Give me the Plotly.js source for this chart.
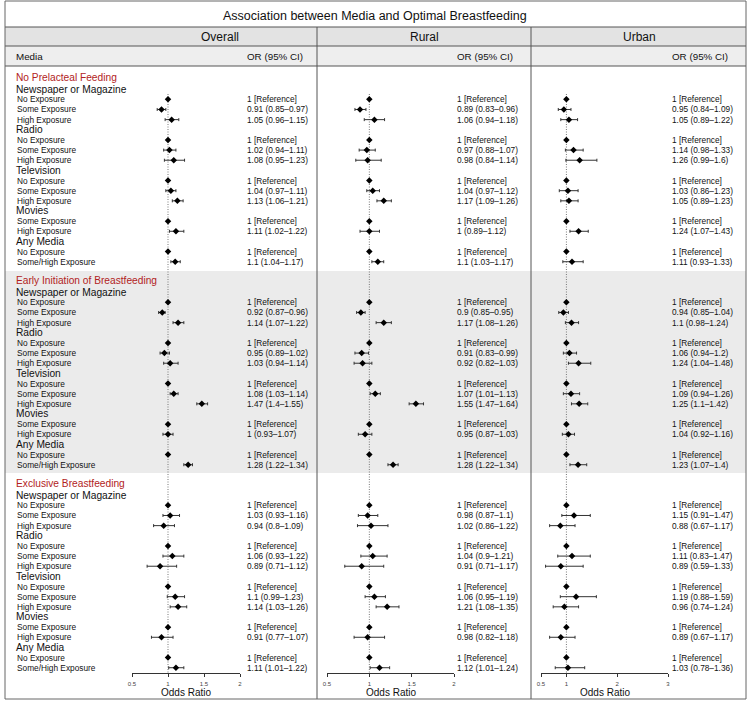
<!DOCTYPE html>
<html>
<head>
<meta charset="utf-8">
<script src="https://cdn.plot.ly/plotly-3.0.1.min.js"></script>
<style>
  html, body { margin: 0; padding: 0; background: #fff; }
  #chart { width: 751px; height: 703px; }
</style>
</head>
<body>
<div id="chart"></div>
<script>
// ---- data ----
const outcomes = ['No Prelacteal Feeding', 'Early Initiation of Breastfeeding', 'Exclusive Breastfeeding'];
const mediaGroups = ['Newspaper or Magazine', 'Radio', 'Television', 'Movies', 'Any Media'];
const groupLevels = [
    ['No Exposure', 'Some Exposure', 'High Exposure'],
    ['No Exposure', 'Some Exposure', 'High Exposure'],
    ['No Exposure', 'Some Exposure', 'High Exposure'],
    ['Some Exposure', 'High Exposure'],
    ['No Exposure', 'Some/High Exposure']
];
const panels = ['Overall', 'Rural', 'Urban'];

// non-reference rows, in row order, one list per outcome
const overallOR = [[0.91, 1.05, 1.02, 1.08, 1.04, 1.13, 1.11, 1.1],
                   [0.92, 1.14, 0.95, 1.03, 1.08, 1.47, 1, 1.28],
                   [1.03, 0.94, 1.06, 0.89, 1.1, 1.14, 0.91, 1.11]];
const overallLo = [[0.85, 0.96, 0.94, 0.95, 0.97, 1.06, 1.02, 1.04],
                   [0.87, 1.07, 0.89, 0.94, 1.03, 1.4, 0.93, 1.22],
                   [0.93, 0.8, 0.93, 0.71, 0.99, 1.03, 0.77, 1.01]];
const overallHi = [[0.97, 1.15, 1.11, 1.23, 1.11, 1.21, 1.22, 1.17],
                   [0.96, 1.22, 1.02, 1.14, 1.14, 1.55, 1.07, 1.34],
                   [1.16, 1.09, 1.22, 1.12, 1.23, 1.26, 1.07, 1.22]];

const ruralOR = [[0.89, 1.06, 0.97, 0.98, 1.04, 1.17, 1, 1.1],
                 [0.9, 1.17, 0.91, 0.92, 1.07, 1.55, 0.95, 1.28],
                 [0.98, 1.02, 1.04, 0.91, 1.06, 1.21, 0.98, 1.12]];
const ruralLo = [[0.83, 0.94, 0.88, 0.84, 0.97, 1.09, 0.89, 1.03],
                 [0.85, 1.08, 0.83, 0.82, 1.01, 1.47, 0.87, 1.22],
                 [0.87, 0.86, 0.9, 0.71, 0.95, 1.08, 0.82, 1.01]];
const ruralHi = [[0.96, 1.18, 1.07, 1.14, 1.12, 1.26, 1.12, 1.17],
                 [0.95, 1.26, 0.99, 1.03, 1.13, 1.64, 1.03, 1.34],
                 [1.1, 1.22, 1.21, 1.17, 1.19, 1.35, 1.18, 1.24]];

const urbanOR = [[0.95, 1.05, 1.14, 1.26, 1.03, 1.05, 1.24, 1.11],
                 [0.94, 1.1, 1.06, 1.24, 1.09, 1.25, 1.04, 1.23],
                 [1.15, 0.88, 1.11, 0.89, 1.19, 0.96, 0.89, 1.03]];
const urbanLo = [[0.84, 0.89, 0.98, 0.99, 0.86, 0.89, 1.07, 0.93],
                 [0.85, 0.98, 0.94, 1.04, 0.94, 1.1, 0.92, 1.07],
                 [0.91, 0.67, 0.83, 0.59, 0.88, 0.74, 0.67, 0.78]];
const urbanHi = [[1.09, 1.22, 1.33, 1.6, 1.23, 1.23, 1.43, 1.33],
                 [1.04, 1.24, 1.2, 1.48, 1.26, 1.42, 1.16, 1.4],
                 [1.47, 1.17, 1.47, 1.33, 1.59, 1.24, 1.17, 1.36]];

const axisTicks = [[0.5, 1, 1.5, 2], [0.5, 1, 1.5, 2], [0.5, 1, 2, 3]];

// ---- layout helpers ----
const W = 751, H = 703;
const ROW = 10.15, TOP = 77;
const px = x => x / W;
const py = y => 1 - y / H;
const FONT = 'Liberation Sans, Arial, Helvetica, sans-serif';

const panelData = [
    {or: overallOR, lo: overallLo, hi: overallHi, dom: [132, 240], range: [0.5, 2], textX: 245, head: 220},
    {or: ruralOR, lo: ruralLo, hi: ruralHi, dom: [327, 454], range: [0.5, 2], textX: 455, head: 424},
    {or: urbanOR, lo: urbanLo, hi: urbanHi, dom: [541, 668], range: [0.5, 3], textX: 670, head: 639}
];

// build rows (y in row units)
const rows = [];
outcomes.forEach((o, k) => {
    const base = k * 20;
    rows.push({kind: 'outcome', label: o, u: base});
    let u = base + 1.2;
    let est = 0;
    mediaGroups.forEach((g, gi) => {
        rows.push({kind: 'group', label: g, u: u});
        u += 1;
        groupLevels[gi].forEach((lev, li) => {
            rows.push({kind: 'level', label: lev, u: u, outcome: k, ref: li === 0, idx: li === 0 ? -1 : est});
            if (li > 0) est++;
            u += 1;
        });
    });
});

const annotations = [];
const shapes = [];
const traces = [];

function ann(text, x, y, opts) {
    annotations.push(Object.assign({
        text: text, x: x, y: y, xref: 'paper', yref: 'y',
        xanchor: 'left', yanchor: 'middle', showarrow: false,
        font: {family: FONT, size: 8.3, color: '#111'}
    }, opts || {}));
}

// row labels
rows.forEach(r => {
    if (r.kind === 'outcome') ann(r.label, px(14), r.u, {font: {family: FONT, size: 10.2, color: '#B22222'}});
    else if (r.kind === 'group') ann(r.label, px(14), r.u, {font: {family: FONT, size: 10.2, color: '#111'}});
    else ann(r.label, px(15), r.u);
});

const fmt = v => String(v);

panelData.forEach((p, pi) => {
    const xa = pi === 0 ? 'x' : 'x' + (pi + 1);
    const xs = [], ys = [], ep = [], em = [];
    rows.filter(r => r.kind === 'level').forEach(r => {
        let txt;
        if (r.ref) {
            xs.push(1); ys.push(r.u); ep.push(0); em.push(0);
            txt = '1 [Reference]';
        } else {
            const o = p.or[r.outcome][r.idx], lo = p.lo[r.outcome][r.idx], hi = p.hi[r.outcome][r.idx];
            xs.push(o); ys.push(r.u); ep.push(hi - o); em.push(o - lo);
            txt = fmt(o) + ' (' + fmt(lo) + '\u2013' + fmt(hi) + ')';
        }
        ann(txt, px(p.textX), r.u);
    });

    // reference line at OR = 1
    shapes.push({type: 'line', xref: xa, yref: 'paper', x0: 1, x1: 1, y0: py(94), y1: py(673),
                 layer: 'below', line: {color: '#777', width: 1, dash: '1px,1.5px'}});

    traces.push({
        type: 'scatter', mode: 'markers', x: xs, y: ys, xaxis: xa, yaxis: 'y',
        marker: {symbol: 'diamond', size: 5, color: '#000'},
        error_x: {type: 'data', symmetric: false, array: ep, arrayminus: em,
                  color: '#333', thickness: 1, width: 1.5},
        cliponaxis: false, hoverinfo: 'skip', showlegend: false
    });

    // headers
    annotations.push({text: panels[pi], x: px(p.head), y: py(37), xref: 'paper', yref: 'paper',
                      xanchor: 'center', yanchor: 'middle', showarrow: false,
                      font: {family: FONT, size: 12, color: '#111'}});
    annotations.push({text: 'OR (95% CI)', x: px(p.textX), y: py(56), xref: 'paper', yref: 'paper',
                      xanchor: 'left', yanchor: 'middle', showarrow: false,
                      font: {family: FONT, size: 9.8, color: '#111'}});
    annotations.push({text: 'Odds Ratio', x: px((p.dom[0] + p.dom[1]) / 2), y: py(692), xref: 'paper', yref: 'paper',
                      xanchor: 'center', yanchor: 'middle', showarrow: false,
                      font: {family: FONT, size: 10, color: '#111'}});
});

annotations.push({text: 'Media', x: px(14), y: py(56), xref: 'paper', yref: 'paper',
                  xanchor: 'left', yanchor: 'middle', showarrow: false,
                  font: {family: FONT, size: 9.8, color: '#111'}});
annotations.push({text: 'Association between Media and Optimal Breastfeeding', x: px(375), y: py(16),
                  xref: 'paper', yref: 'paper', xanchor: 'center', yanchor: 'middle', showarrow: false,
                  font: {family: FONT, size: 12.5, color: '#111'}});

// backgrounds and rules
const rect = (x0, y0, x1, y1, fill) => shapes.push({type: 'rect', xref: 'paper', yref: 'paper', layer: 'below',
    x0: px(x0), x1: px(x1), y0: py(y0), y1: py(y1), fillcolor: fill, line: {width: 0}});
const hline = (y, x0, x1) => shapes.push({type: 'line', xref: 'paper', yref: 'paper', layer: 'below',
    x0: px(x0), x1: px(x1), y0: py(y), y1: py(y), line: {color: '#555', width: 1}});
const vline = (x, y0, y1) => shapes.push({type: 'line', xref: 'paper', yref: 'paper', layer: 'below',
    x0: px(x), x1: px(x), y0: py(y0), y1: py(y1), line: {color: '#555', width: 1}});

rect(5, 27, 746, 46, '#e3e3e3');
rect(5, 46, 746, 66, '#eeeeee');
rect(5, 271, 746, 473, '#ebebeb');
// move fills to the front of the shape list so the dotted lines sit on top of them
shapes.unshift(...shapes.splice(shapes.length - 3, 3));
hline(27, 5, 746);
hline(46, 5, 746);
hline(66, 5, 746);
vline(317, 27, 699);
vline(531, 27, 699);
shapes.push({type: 'rect', xref: 'paper', yref: 'paper', layer: 'below',
             x0: px(5), x1: px(746), y0: py(1), y1: py(699), line: {color: '#666', width: 1}});

const layout = {
    width: W, height: H,
    margin: {l: 0, r: 0, t: 0, b: 0, pad: 0},
    paper_bgcolor: '#fff', plot_bgcolor: 'rgba(0,0,0,0)',
    showlegend: false,
    yaxis: {domain: [0, 1], range: [(H - TOP) / ROW, -TOP / ROW], visible: false, fixedrange: true},
    annotations: annotations,
    shapes: shapes
};
panelData.forEach((p, pi) => {
    const key = pi === 0 ? 'xaxis' : 'xaxis' + (pi + 1);
    layout[key] = {
        domain: [px(p.dom[0]), px(p.dom[1])], range: p.range,
        anchor: 'free', position: py(673),
        showgrid: false, zeroline: false, showline: true, linecolor: '#333', linewidth: 1,
        ticks: 'outside', ticklen: 3, tickcolor: '#333', tickwidth: 1, ticklabelstandoff: 2,
        tickvals: axisTicks[pi], ticktext: axisTicks[pi].map(String),
        tickfont: {family: FONT, size: 6, color: '#444'}, fixedrange: true
    };
});

Plotly.newPlot('chart', traces, layout, {displayModeBar: false, staticPlot: true});
</script>
</body>
</html>
